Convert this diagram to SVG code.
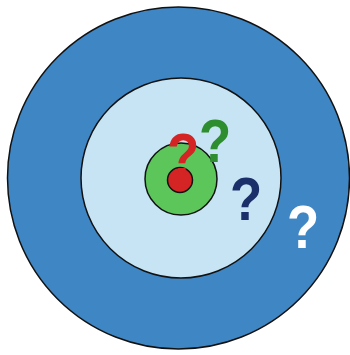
<svg xmlns="http://www.w3.org/2000/svg" width="350" height="355" viewBox="0 0 350 355">
<style>
.ring{stroke:#111;stroke-width:1.5}
.q{font-family:"Liberation Sans",Arial,sans-serif;font-weight:bold;font-size:62px;text-anchor:middle}
</style>
<rect width="350" height="355" fill="#fff"/>
<g id="outer"><circle class="ring" cx="178.5" cy="178" r="171" fill="#3f86c5"/></g>
<g id="middle"><circle class="ring" cx="181" cy="178" r="100" fill="#c6e4f3"/></g>
<g id="inner"><circle class="ring" cx="181" cy="179" r="36" fill="#5cc65a"/></g>
<g id="core"><circle class="ring" cx="180" cy="180" r="12.5" fill="#d42424"/></g>
<g id="labels">
<text class="q" transform="translate(183,176) scale(0.85,1)" fill="#d42424">?</text>
<text class="q" transform="translate(215,162) scale(0.85,1)" fill="#2e8d2e">?</text>
<text class="q" transform="translate(246,220) scale(0.85,1)" fill="#1b2f6a">?</text>
<text class="q" transform="translate(303,248) scale(0.85,1)" fill="#ffffff">?</text>
</g>
</svg>
